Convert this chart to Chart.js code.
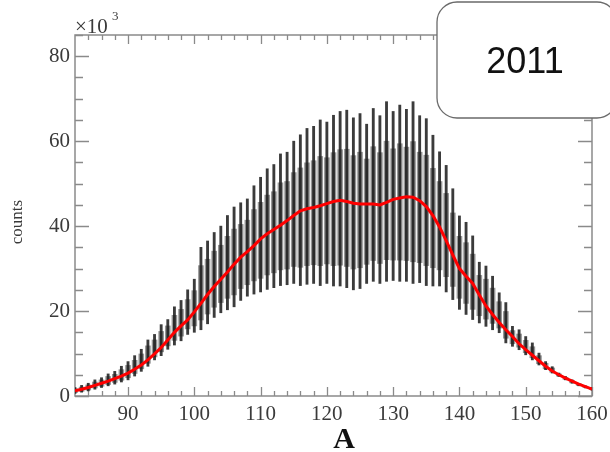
<!DOCTYPE html>
<html><head><meta charset="utf-8">
<script src="https://cdn.jsdelivr.net/npm/chart.js@4"></script>
<style>html,body{margin:0;padding:0;background:#fff}#wrap{width:610px;height:452px}</style>
</head><body><div id="wrap"><canvas id="c" width="610" height="452"></canvas></div>
<script>
const massNumbers = [82,83,84,85,86,87,88,89,90,91,92,93,94,95,96,97,98,99,100,101,102,103,104,105,106,107,108,109,110,111,112,113,114,115,116,117,118,119,120,121,122,123,124,125,126,127,128,129,130,131,132,133,134,135,136,137,138,139,140,141,142,143,144,145,146,147,148,149,150,151,152,153,154,155,156,157,158,159,160];
const countsLow = [0.6,0.9,1.2,1.6,2.0,2.4,2.8,3.3,3.8,4.7,5.8,7.0,8.5,9.5,11.0,12.0,13.0,14.5,15.0,15.6,17.0,18.5,19.6,20.3,21.0,22.5,23.5,24.0,24.5,25.1,25.5,26.0,26.2,26.5,26.0,26.3,26.5,26.0,26.5,25.9,25.9,25.5,25.0,25.3,26.5,27.0,26.5,27.0,27.2,27.0,27.0,26.5,26.7,26.0,25.9,25.9,24.5,22.7,20.4,19.2,18.0,17.2,16.4,15.6,14.9,12.5,11.7,10.9,9.7,8.5,7.3,6.2,5.4,4.6,3.8,3.0,2.4,1.9,1.4];
const countsHigh = [2.0,2.5,3.0,3.8,4.3,5.2,5.8,7.0,8.1,9.5,11.0,13.2,14.5,16.8,18.0,21.0,22.5,25.0,27.5,35.0,36.5,38.5,40.0,42.5,44.5,45.5,46.4,49.5,51.5,53.5,54.5,57.0,57.4,60.0,61.5,63.0,63.5,65.0,64.5,66.1,67.0,67.3,65.5,66.5,64.0,67.7,66.0,69.3,67.0,68.5,67.5,69.3,66.0,65.3,61.4,57.5,54.3,48.8,42.4,40.9,37.7,31.5,30.6,28.2,24.3,22.0,16.4,15.6,14.0,12.5,10.1,8.1,6.9,5.4,4.6,3.8,3.0,2.4,2.0];
const innerLow = [0.8,1.1,1.4,1.9,2.3,2.7,3.2,3.7,4.3,5.3,6.4,7.7,9.2,10.4,11.8,13.1,14.1,15.8,16.5,17.9,19.3,20.9,22.0,23.0,23.8,25.3,26.2,27.1,27.7,28.5,29.0,29.7,29.9,30.5,30.3,30.7,30.9,30.7,31.1,30.7,30.8,30.5,29.9,30.2,31.0,31.9,31.2,32.1,32.0,32.0,31.9,31.6,31.4,30.7,30.2,29.7,28.1,25.8,23.0,21.8,20.4,18.9,18.1,17.1,16.0,13.6,12.3,11.5,10.2,9.0,7.6,6.4,5.6,4.7,3.9,3.1,2.5,2.0,1.5];
const innerHigh = [1.7,2.1,2.6,3.3,3.8,4.6,5.1,6.2,7.2,8.4,9.9,11.8,13.2,15.2,16.5,19.0,20.4,22.7,24.8,30.7,32.2,34.1,35.5,37.6,39.3,40.4,41.4,43.9,45.6,47.3,48.1,50.2,50.5,52.6,53.7,54.9,55.4,56.4,56.1,57.3,58.0,58.1,56.6,57.4,55.8,58.7,57.3,60.0,58.2,59.4,58.6,59.9,57.4,56.7,53.6,50.5,47.7,43.1,37.6,36.1,33.4,28.4,27.5,25.4,22.2,19.9,15.4,14.6,13.1,11.6,9.5,7.7,6.6,5.2,4.4,3.6,2.9,2.3,1.9];
const countsMean = [1.2,1.6,2.0,2.5,3.0,3.5,4.1,4.7,5.4,6.3,7.3,8.5,9.9,11.4,13.2,15.0,16.5,17.9,19.8,21.8,23.9,25.8,27.5,29.2,31.0,32.7,34.0,35.4,37.0,38.2,39.2,40.2,41.3,42.5,43.6,44.1,44.4,44.8,45.3,45.8,46.1,45.8,45.4,45.2,45.2,45.2,45.0,45.6,46.3,46.6,46.9,46.8,46.0,44.6,42.5,39.8,36.6,33.2,30.0,28.2,26.5,23.8,21.2,19.2,17.3,15.6,14.0,12.3,10.9,9.6,8.3,7.0,5.9,5.0,4.2,3.5,2.8,2.2,1.6];
const xTickValues = [90,100,110,120,130,140,150,160];
const yTickValues = [0,20,40,60,80];
const yearLabel = '2011';
const xTitle = 'A';
const yTitle = 'counts';

const SERIF = "'Liberation Serif','DejaVu Serif',serif";
const AXIS = '#8a8a8a';
const TXT = '#3a3a3a';

const decor = {
  id: 'decor',
  beforeDatasetsDraw(chart) {
    const {ctx, chartArea: a, scales: {x, y}} = chart;
    ctx.save();
    ctx.strokeStyle = AXIS; ctx.lineWidth = 1.5;
    ctx.strokeRect(a.left, a.top, a.right - a.left, a.bottom - a.top);
    ctx.lineWidth = 1.3;
    ctx.beginPath();
    for (let v = 84; v <= 160; v += 2) {
      const px = Math.round(x.getPixelForValue(v)) + 0.5;
      const L = v % 10 === 0 ? 9 : 5;
      ctx.moveTo(px, a.bottom); ctx.lineTo(px, a.bottom - L);
      ctx.moveTo(px, a.top); ctx.lineTo(px, a.top + L);
    }
    for (let v = 0; v <= 85; v += 5) {
      const py = Math.round(y.getPixelForValue(v)) + 0.5;
      const L = v % 20 === 0 ? 14 : 8;
      ctx.moveTo(a.left, py); ctx.lineTo(a.left + L, py);
      ctx.moveTo(a.right, py); ctx.lineTo(a.right - L, py);
    }
    ctx.stroke();
    ctx.restore();
  },
  afterDraw(chart) {
    const {ctx} = chart;
    ctx.save();
    ctx.fillStyle = TXT;
    ctx.font = '21px ' + SERIF;
    ctx.textBaseline = 'alphabetic';
    ctx.textAlign = 'left';
    ctx.fillText('×10', 75, 33);
    ctx.font = '13px ' + SERIF;
    ctx.fillText('3', 112, 20);
    ctx.save();
    ctx.translate(22, 222);
    ctx.rotate(-Math.PI / 2);
    ctx.textAlign = 'center';
    ctx.font = '17px ' + SERIF;
    ctx.fillText(yTitle, 0, 0);
    ctx.restore();
    ctx.fillStyle = '#111';
    ctx.font = 'bold 30px ' + SERIF;
    ctx.textAlign = 'center';
    ctx.fillText(xTitle, 344, 448);
    const bx = 437, by = 2, bw = 180, bh = 116, r = 20;
    ctx.beginPath();
    ctx.moveTo(bx + r, by);
    ctx.lineTo(bx + bw - r, by);
    ctx.arcTo(bx + bw, by, bx + bw, by + r, r);
    ctx.lineTo(bx + bw, by + bh - r);
    ctx.arcTo(bx + bw, by + bh, bx + bw - r, by + bh, r);
    ctx.lineTo(bx + r, by + bh);
    ctx.arcTo(bx, by + bh, bx, by + bh - r, r);
    ctx.lineTo(bx, by + r);
    ctx.arcTo(bx, by, bx + r, by, r);
    ctx.closePath();
    ctx.fillStyle = '#fff';
    ctx.fill();
    ctx.strokeStyle = '#6a6a6a';
    ctx.lineWidth = 1.3;
    ctx.stroke();
    ctx.fillStyle = '#111';
    ctx.font = "36px 'Liberation Sans', Arial, sans-serif";
    ctx.textAlign = 'center';
    ctx.fillText(yearLabel, 525, 73);
    ctx.restore();
  }
};

new Chart(document.getElementById('c'), {
  type: 'bar',
  data: {
    datasets: [
      {
        type: 'line',
        data: massNumbers.map((a, i) => ({x: a, y: countsMean[i]})),
        borderColor: '#ff0000',
        borderWidth: 3,
        pointRadius: 0,
        tension: 0,
        order: 0
      },
      {
        type: 'bar',
        data: massNumbers.map((a, i) => ({x: a, y: [countsLow[i], countsHigh[i]]})),
        backgroundColor: 'rgba(25,25,25,0.85)',
        borderWidth: 0,
        barThickness: 2.2,
        grouped: false,
        order: 1
      },
      {
        type: 'bar',
        data: massNumbers.map((a, i) => ({x: a, y: [innerLow[i], innerHigh[i]]})),
        backgroundColor: 'rgb(150,150,150)',
        borderWidth: 0,
        barThickness: 5,
        grouped: false,
        order: 2
      }
    ]
  },
  options: {
    responsive: false,
    animation: false,
    devicePixelRatio: 1,
    layout: {padding: {top: 35, right: 18, left: 0, bottom: 0}},
    plugins: {legend: {display: false}, tooltip: {enabled: false}},
    scales: {
      x: {
        type: 'linear', min: 82, max: 160, offset: false,
        grid: {display: false, drawTicks: false},
        border: {display: false},
        afterBuildTicks: s => { s.ticks = xTickValues.map(v => ({value: v})); },
        afterFit: s => { s.height = 56; s.paddingRight = 0; s.paddingLeft = 0; },
        ticks: {padding: 6, color: TXT, font: {family: SERIF, size: 21}, maxRotation: 0, autoSkip: false}
      },
      y: {
        min: 0, max: 85,
        grid: {display: false, drawTicks: false},
        border: {display: false},
        afterBuildTicks: s => { s.ticks = yTickValues.map(v => ({value: v})); },
        afterFit: s => { s.width = 75; },
        ticks: {padding: 5, color: TXT, font: {family: SERIF, size: 21}}
      }
    }
  },
  plugins: [decor]
});
</script>
</body></html>
